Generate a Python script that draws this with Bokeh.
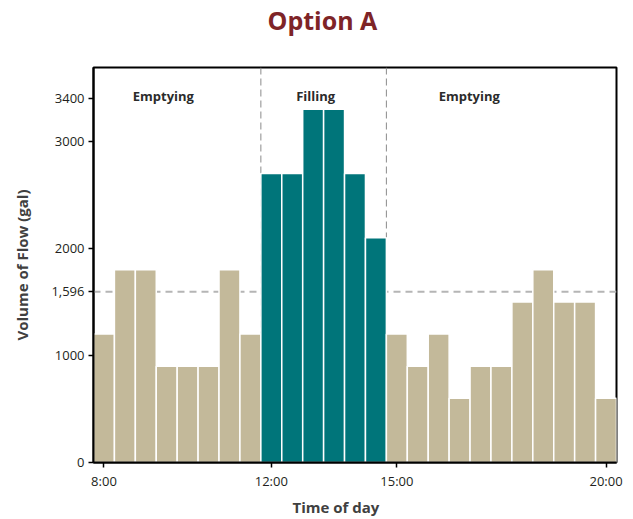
from bokeh.plotting import figure
from bokeh.models import FixedTicker, Span, Label, ColumnDataSource, Title
from bokeh.embed import file_html
from bokeh.resources import INLINE

# ---- data ----
times = ["8:00", "8:30", "9:00", "9:30", "10:00", "10:30", "11:00", "11:30",
         "12:00", "12:30", "13:00", "13:30", "14:00", "14:30",
         "15:00", "15:30", "16:00", "16:30", "17:00", "17:30", "18:00",
         "18:30", "19:00", "19:30", "20:00"]
volumes = [1200, 1800, 1800, 900, 900, 900, 1800, 1200,
           2700, 2700, 3300, 3300, 2700, 2100,
           1200, 900, 1200, 600, 900, 900, 1500, 1800, 1500, 1500, 600]
phases = ["Emptying"] * 8 + ["Filling"] * 6 + ["Emptying"] * 11
x_ticks = [8, 12, 15, 20]
x_tick_labels = ["8:00", "12:00", "15:00", "20:00"]
y_ticks = [0, 1000, 1596, 2000, 3000, 3400]
y_tick_labels = ["0", "1000", "1,596", "2000", "3000", "3400"]
phase_colors = {"Emptying": "#c3b99a", "Filling": "#00757a"}


def to_hours(t):
    h, m = t.split(":")
    return int(h) + int(m) / 60.0


hours = [to_hours(t) for t in times]
mean_volume = sum(volumes) / len(volumes)

src = ColumnDataSource(dict(x=hours, top=volumes,
                            color=[phase_colors[ph] for ph in phases]))

FONT = "Open Sans"

p = figure(width=633, height=519, x_range=(7.75, 20.25), y_range=(0, 3690),
           min_border_left=93, min_border_right=17, min_border_top=66,
           min_border_bottom=57, output_backend="svg", toolbar_location=None)

p.title.text = "Option A"
p.title.align = "left"
p.title.offset = 174
p.title.vertical_align = "bottom"
p.title.standoff = 0
p.title.text_font = FONT
p.title.text_font_style = "bold"
p.title.text_font_size = "25px"
p.title.text_color = "#7e2427"

# blank spacer between the title and the plot frame
p.add_layout(Title(text=" ", standoff=28, text_font_size="1px"), "above")

p.xgrid.visible = False
p.ygrid.visible = False
p.outline_line_color = "black"
p.outline_line_width = 2
p.outline_line_alpha = 1

# reference lines behind bars
p.add_layout(Span(location=mean_volume, dimension="width", line_color="#b5b5b5",
                  line_width=2, line_dash="7 5", level="underlay"))
for i in range(1, len(phases)):
    if phases[i] != phases[i - 1]:
        p.add_layout(Span(location=(hours[i] + hours[i - 1]) / 2, dimension="height",
                          line_color="#8a8a8a", line_width=1, line_dash="7 4",
                          level="underlay"))

p.vbar(x="x", top="top", bottom=0, width=0.5, fill_color="color",
       line_color="white", line_width=1.5, source=src)

# axes
for ax in (p.xaxis[0], p.yaxis[0]):
    ax.axis_line_color = "black"
    ax.axis_line_width = 2
    ax.major_tick_line_color = "black"
    ax.major_tick_line_width = 1.5
    ax.major_tick_out = 5
    ax.major_tick_in = 0
    ax.minor_tick_line_color = None
    ax.major_label_text_font = FONT
    ax.major_label_text_font_size = "13px"
    ax.major_label_text_color = "#231f20"
    ax.major_label_standoff = 4

p.xaxis.ticker = FixedTicker(ticks=x_ticks)
p.xaxis.major_label_overrides = dict(zip(x_ticks, x_tick_labels))
p.yaxis.ticker = FixedTicker(ticks=y_ticks)
p.yaxis.major_label_overrides = dict(zip(y_ticks, y_tick_labels))

p.yaxis.axis_label = "Volume of Flow (gal)"
p.yaxis.axis_label_text_font = FONT
p.yaxis.axis_label_text_font_style = "bold"
p.yaxis.axis_label_text_font_size = "15px"
p.yaxis.axis_label_text_color = "#404040"
p.yaxis.axis_label_standoff = 16

# x axis title (placed below the axis)
p.add_layout(Title(text="Time of day", align="left", offset=199, standoff=4,
                   text_font=FONT, text_font_style="bold", text_font_size="15px",
                   text_color="#404040"), "below")

# phase labels
for txt, xh in [("Emptying", 9.42), ("Filling", 13.06), ("Emptying", 16.73)]:
    p.add_layout(Label(x=xh, y=3420, text=txt, text_align="center",
                       text_baseline="alphabetic", text_font=FONT,
                       text_font_style="bold", text_font_size="13px",
                       text_color="#2b2b2b"))

open("out.html", "w").write(file_html(p, INLINE))
